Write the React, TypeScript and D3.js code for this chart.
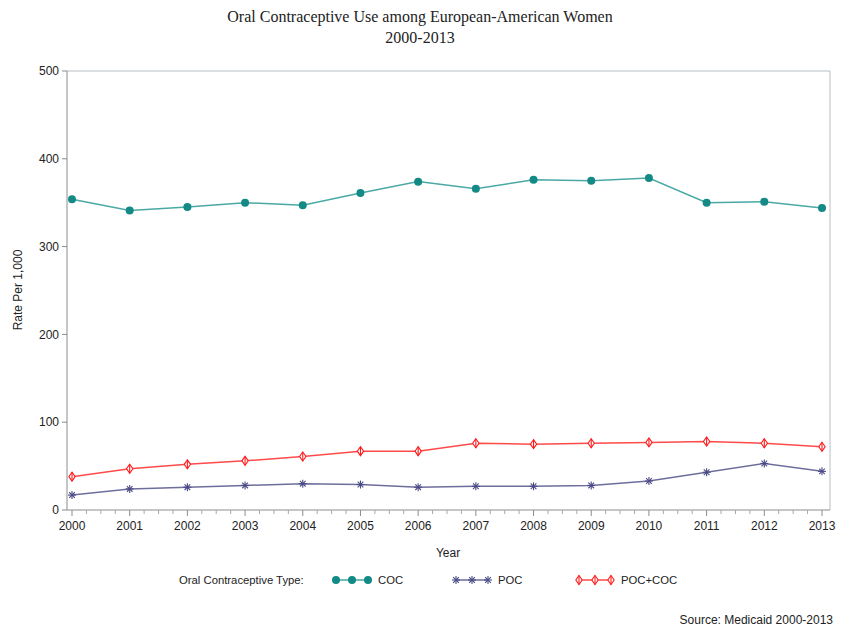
import React, { useEffect, useRef } from 'react';
import * as d3 from 'd3';

const years = [2000, 2001, 2002, 2003, 2004, 2005, 2006, 2007, 2008, 2009, 2010, 2011, 2012, 2013];
const cocValues = [354, 341, 345, 350, 347, 361, 374, 366, 376, 375, 378, 350, 351, 344];
const pocValues = [17, 24, 26, 28, 30, 29, 26, 27, 27, 28, 33, 43, 53, 44];
const pocCocValues = [38, 47, 52, 56, 61, 67, 67, 76, 75, 76, 77, 78, 76, 72];
const yTicks = [0, 100, 200, 300, 400, 500];

const series = [
  { name: 'COC', values: cocValues, line: '#4aa9a5', mark: '#138a86', symbol: 'circle' },
  { name: 'POC', values: pocValues, line: '#6e6e9c', mark: '#4a4a86', symbol: 'star' },
  { name: 'POC+COC', values: pocCocValues, line: '#ff4a4a', mark: '#ff1a1a', symbol: 'diamond' },
];

const sans = '"Liberation Sans", Arial, sans-serif';

function drawSymbol(g: any, kind: string, x: number, y: number, color: string) {
  if (kind === 'circle') {
    g.append('circle').attr('cx', x).attr('cy', y).attr('r', 4).attr('fill', color);
  } else if (kind === 'star') {
    const r = 4;
    [0, 45, 90, 135].forEach((a) => {
      const rad = (a * Math.PI) / 180;
      g.append('line')
        .attr('x1', x - r * Math.cos(rad)).attr('y1', y - r * Math.sin(rad))
        .attr('x2', x + r * Math.cos(rad)).attr('y2', y + r * Math.sin(rad))
        .attr('stroke', color).attr('stroke-width', 1.1);
    });
  } else {
    const r = 4.5;
    g.append('path')
      .attr('d', `M${x},${y - r}L${x + r * 0.7},${y}L${x},${y + r}L${x - r * 0.7},${y}Z`)
      .attr('fill', 'white').attr('stroke', color).attr('stroke-width', 1.1);
    g.append('line')
      .attr('x1', x).attr('y1', y - r).attr('x2', x).attr('y2', y + r)
      .attr('stroke', color).attr('stroke-width', 1.1);
  }
}

export default function App() {
  const svgRef = useRef<SVGSVGElement | null>(null);

  useEffect(() => {
    document.body.style.margin = '0';
    if (!svgRef.current) return;
    const svg = d3.select(svgRef.current);
    svg.selectAll('*').remove();

    const left = 67, right = 830, top = 71, bottom = 510;
    const x = d3.scaleLinear().domain([2000, 2013]).range([72, 822]);
    const y = d3.scaleLinear().domain([0, 500]).range([bottom, top]);

    // Frame (top/right)
    svg.append('path')
      .attr('d', `M${left},${top}H${right}V${bottom}`)
      .attr('fill', 'none').attr('stroke', '#b8bec2').attr('stroke-width', 1);

    // Axes lines
    svg.append('line').attr('x1', left).attr('x2', left).attr('y1', top).attr('y2', bottom)
      .attr('stroke', '#8c8c8c');
    svg.append('line').attr('x1', left).attr('x2', right).attr('y1', bottom).attr('y2', bottom)
      .attr('stroke', '#8c8c8c');

    // Y ticks
    yTicks.forEach((t) => {
      svg.append('line').attr('x1', left - 5).attr('x2', left).attr('y1', y(t)).attr('y2', y(t))
        .attr('stroke', '#8c8c8c');
      svg.append('text').attr('x', left - 8).attr('y', y(t)).attr('dy', '0.35em')
        .attr('text-anchor', 'end').attr('font-family', sans).attr('font-size', 12)
        .attr('fill', '#222').text(t);
    });

    // X ticks (major + 3 minor)
    years.forEach((yr, i) => {
      svg.append('line').attr('x1', x(yr)).attr('x2', x(yr)).attr('y1', bottom).attr('y2', bottom + 6)
        .attr('stroke', '#8c8c8c');
      svg.append('text').attr('x', x(yr)).attr('y', bottom + 20)
        .attr('text-anchor', 'middle').attr('font-family', sans).attr('font-size', 12)
        .attr('fill', '#222').text(yr);
      if (i < years.length - 1) {
        [0.25, 0.5, 0.75].forEach((f) => {
          const xm = x(yr + f);
          svg.append('line').attr('x1', xm).attr('x2', xm).attr('y1', bottom).attr('y2', bottom + 4)
            .attr('stroke', '#a8a8a8');
        });
      }
    });

    // Series
    const line = d3.line<number>().x((_, i) => x(years[i])).y((d) => y(d));
    series.forEach((s) => {
      svg.append('path').datum(s.values).attr('d', line as any)
        .attr('fill', 'none').attr('stroke', s.line).attr('stroke-width', 1.5);
      const g = svg.append('g');
      s.values.forEach((v, i) => drawSymbol(g, s.symbol, x(years[i]), y(v), s.mark));
    });

    // Titles
    svg.append('text').attr('x', 420).attr('y', 22).attr('text-anchor', 'middle')
      .attr('font-family', '"Liberation Serif", "Times New Roman", serif').attr('font-size', 16)
      .attr('fill', '#222').text('Oral Contraceptive Use among European-American Women');
    svg.append('text').attr('x', 420).attr('y', 43).attr('text-anchor', 'middle')
      .attr('font-family', '"Liberation Serif", "Times New Roman", serif').attr('font-size', 16)
      .attr('fill', '#222').text('2000-2013');

    svg.append('text').attr('transform', `translate(22,290) rotate(-90)`)
      .attr('text-anchor', 'middle').attr('font-family', sans).attr('font-size', 12)
      .attr('fill', '#222').text('Rate Per 1,000');
    svg.append('text').attr('x', 448).attr('y', 557).attr('text-anchor', 'middle')
      .attr('font-family', sans).attr('font-size', 12).attr('fill', '#222').text('Year');

    // Legend
    const ly = 580;
    svg.append('text').attr('x', 179).attr('y', ly).attr('dy', '0.35em')
      .attr('font-family', sans).attr('font-size', 11.3).attr('fill', '#222')
      .text('Oral Contraceptive Type:');
    const legendX = [336, 456, 579];
    series.forEach((s, k) => {
      const x0 = legendX[k];
      const lg = svg.append('g');
      lg.append('line').attr('x1', x0).attr('x2', x0 + 32).attr('y1', ly).attr('y2', ly)
        .attr('stroke', s.line).attr('stroke-width', 1.5);
      [0, 16, 32].forEach((dx) => drawSymbol(lg, s.symbol, x0 + dx, ly, s.mark));
      lg.append('text').attr('x', x0 + 42).attr('y', ly).attr('dy', '0.35em')
        .attr('font-family', sans).attr('font-size', 11.3).attr('fill', '#222').text(s.name);
    });

    svg.append('text').attr('x', 833).attr('y', 624).attr('text-anchor', 'end')
      .attr('font-family', sans).attr('font-size', 12).attr('fill', '#222')
      .text('Source: Medicaid 2000-2013');
  }, []);

  return <svg ref={svgRef} width={841} height={634} style={{ display: 'block', background: '#fff' }} />;
}
